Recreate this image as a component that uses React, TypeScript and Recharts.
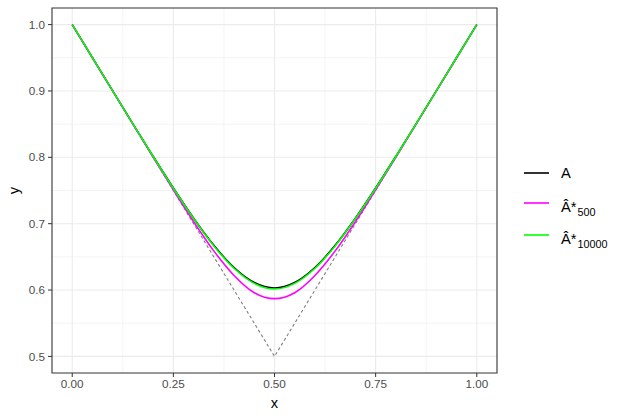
import React from 'react';
import {
  LineChart,
  Line,
  XAxis,
  YAxis,
  CartesianGrid,
  ReferenceArea,
} from 'recharts';

// grid of t values
const tValues = [0, 0.05, 0.1, 0.15, 0.2, 0.25, 0.3, 0.35, 0.4, 0.45, 0.5, 0.55, 0.6, 0.65, 0.7, 0.75, 0.8, 0.85, 0.9, 0.95, 1];
const lowerBound = [1, 0.95, 0.9, 0.85, 0.8, 0.75, 0.7, 0.65, 0.6, 0.55, 0.5, 0.55, 0.6, 0.65, 0.7, 0.75, 0.8, 0.85, 0.9, 0.95, 1];
const trueA = [1, 0.95, 0.9002, 0.8505, 0.8015, 0.7537, 0.7083, 0.6674, 0.6339, 0.6113, 0.6031, 0.6113, 0.6339, 0.6674, 0.7083, 0.7537, 0.8015, 0.8505, 0.9002, 0.95, 1];
const est500 = [1, 0.95, 0.9, 0.85, 0.8, 0.751, 0.703, 0.659, 0.622, 0.596, 0.587, 0.596, 0.622, 0.659, 0.703, 0.751, 0.8, 0.85, 0.9, 0.95, 1];
const est10000 = [1, 0.95, 0.9, 0.8503, 0.8012, 0.7533, 0.7077, 0.6665, 0.6328, 0.61, 0.6015, 0.61, 0.6328, 0.6665, 0.7077, 0.7533, 0.8012, 0.8503, 0.9, 0.95, 1];

const xTicks = [0, 0.25, 0.5, 0.75, 1];
const yTicks = [0.5, 0.6, 0.7, 0.8, 0.9, 1.0];
const xMinor = [0.125, 0.375, 0.625, 0.875];
const yMinor = [0.55, 0.65, 0.75, 0.85, 0.95];

const data = tValues.map((t, i) => ({
  t,
  bound: lowerBound[i],
  A: trueA[i],
  a500: est500[i],
  a10000: est10000[i],
}));

const FONT = '"Liberation Sans", Arial, sans-serif';
const tickStyle = { fontSize: 11.7, fill: '#4D4D4D', fontFamily: FONT };

const legendRows = [
  { color: '#000000', keyY: 173, baseY: 178, sub: null as string | null },
  { color: '#FF00FF', keyY: 203, baseY: 212, sub: '500' },
  { color: '#00FF00', keyY: 235, baseY: 244, sub: '10000' },
];

const Legendy = () => (
  <svg width={628} height={419} style={{ position: 'absolute', left: 0, top: 0, pointerEvents: 'none' }}>
    {legendRows.map((r, i) => (
      <g key={i}>
        <line x1={524} x2={549} y1={r.keyY} y2={r.keyY} stroke={r.color} strokeWidth={1.6} />
        {r.sub === null ? (
          <text x={561} y={r.baseY} fontSize={14.7} fontFamily={FONT} fill="#000">A</text>
        ) : (
          <text x={561} y={r.baseY} fontSize={14.7} fontFamily={FONT} fill="#000">
            {'\u00C2*'}
            <tspan dx={1} dy={4} fontSize={10.8}>{r.sub}</tspan>
          </text>
        )}
      </g>
    ))}
  </svg>
);

const App = () => {
  return (
    <div style={{ position: 'fixed', left: 0, top: 0, width: 628, height: 419, background: '#fff' }}>
      <LineChart width={628} height={419} data={data} margin={{ top: 8, right: 131, bottom: 0, left: 0 }}>
        <CartesianGrid
          fill="#fff"
          stroke="#EBEBEB"
          strokeWidth={0.55}
          horizontalValues={yMinor}
          verticalValues={xMinor}
        />
        <CartesianGrid
          stroke="#EBEBEB"
          strokeWidth={1.1}
          horizontalValues={yTicks}
          verticalValues={xTicks}
        />
        <XAxis
          dataKey="t"
          type="number"
          domain={[-0.05, 1.05]}
          ticks={xTicks}
          tickFormatter={(v: number) => v.toFixed(2)}
          tick={tickStyle}
          tickSize={4}
          tickMargin={3}
          axisLine={false}
          tickLine={{ stroke: '#333333' }}
          height={46}
          label={(props: any) => (
            <text x={274.5} y={408} textAnchor="middle" fontSize={14.7} fontFamily={FONT} fill="#000">x</text>
          )}
        />
        <YAxis
          type="number"
          domain={[0.475, 1.025]}
          ticks={yTicks}
          tickFormatter={(v: number) => v.toFixed(1)}
          tick={tickStyle}
          tickSize={4}
          tickMargin={3}
          axisLine={false}
          tickLine={{ stroke: '#333333' }}
          width={52}
          label={(props: any) => (
            <text x={19} y={190.5} textAnchor="middle" fontSize={14.7} fontFamily={FONT} fill="#000" transform="rotate(-90 19 190.5)">y</text>
          )}
        />
        <Line dataKey="bound" type="linear" stroke="#7F7F7F" strokeWidth={1.1} strokeDasharray="3 2.5" dot={false} isAnimationActive={false} />
        <Line dataKey="A" type="monotone" stroke="#000000" strokeWidth={1.6} dot={false} isAnimationActive={false} />
        <Line dataKey="a500" type="monotone" stroke="#FF00FF" strokeWidth={1.6} dot={false} isAnimationActive={false} />
        <Line dataKey="a10000" type="monotone" stroke="#00FF00" strokeWidth={1.6} dot={false} isAnimationActive={false} />
        <ReferenceArea x1={-0.05} x2={1.05} y1={0.475} y2={1.025} fill="none" stroke="#333333" strokeWidth={1.1} fillOpacity={0} />
      </LineChart>
      <Legendy />
    </div>
  );
};

export default App;
